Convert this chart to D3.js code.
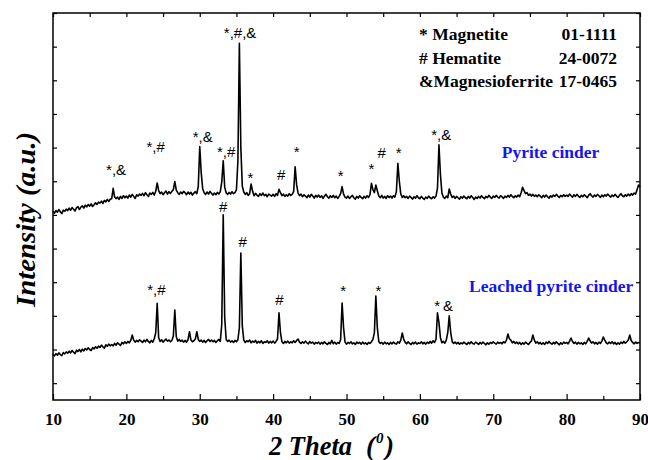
<!DOCTYPE html>
<html>
<head>
<meta charset="utf-8">
<script src="https://cdn.jsdelivr.net/npm/d3@7"></script>
<style>
  html, body { margin: 0; padding: 0; background: #fff; }
  svg { display: block; }
</style>
</head>
<body>
<div id="chart"></div>
<script>
// XRD scan grid: 2θ from 10° to 90° in 0.2° steps
const twoThetaStart = 10;
const twoThetaStep = 0.2;

// Pyrite cinder, raw intensity (a.u.), one value per grid step
const pyriteCinder = [
  511, 505, 513, 508, 516, 509, 504, 514, 511, 517,
  513, 520, 514, 522, 517, 512, 521, 525, 516, 523,
  527, 520, 529, 524, 531, 526, 533, 525, 530, 536,
  531, 538, 535, 541, 534, 543, 539, 546, 540, 547,
  548, 579, 553, 548, 553, 546, 555, 549, 557, 551,
  556, 550, 559, 553, 561, 555, 549, 560, 556, 562,
  558, 564, 557, 566, 560, 555, 565, 561, 567, 559,
  570, 595, 572, 563, 568, 560, 566, 571, 562, 569,
  564, 570, 575, 599, 574, 566, 561, 568, 563, 570,
  566, 560, 568, 562, 567, 559, 565, 569, 563, 585,
  703, 625, 578, 566, 561, 568, 562, 570, 564, 559,
  565, 560, 567, 562, 569, 598, 661, 582, 566, 561,
  567, 562, 569, 563, 566, 575, 660, 1010, 700, 585,
  568, 561, 566, 558, 563, 592, 570, 557, 564, 559,
  555, 563, 558, 565, 557, 561, 554, 562, 559, 556,
  561, 555, 563, 558, 576, 566, 557, 562, 555, 560,
  556, 563, 558, 561, 570, 643, 590, 565, 557, 562,
  554, 560, 556, 551, 559, 553, 561, 556, 550, 558,
  553, 559, 552, 557, 549, 556, 561, 554, 550, 557,
  552, 558, 551, 556, 549, 555, 563, 584, 562, 553,
  550, 556, 549, 554, 558, 551, 547, 555, 550, 557,
  552, 548, 555, 550, 557, 552, 560, 594, 575, 566,
  589, 572, 556, 551, 558, 550, 555, 549, 557, 552,
  556, 550, 557, 553, 570, 653, 600, 562, 552, 557,
  551, 555, 549, 556, 552, 547, 554, 550, 557, 551,
  548, 555, 550, 546, 553, 549, 556, 551, 548, 554,
  550, 556, 580, 708, 620, 565, 553, 549, 556, 551,
  577, 562, 552, 556, 549, 555, 551, 547, 554, 550,
  556, 551, 548, 555, 550, 557, 552, 546, 553, 549,
  555, 550, 557, 552, 548, 555, 551, 558, 553, 549,
  556, 552, 558, 553, 550, 557, 554, 549, 556, 552,
  558, 553, 560, 555, 551, 557, 553, 559, 554, 566,
  582, 572, 563, 566, 558, 562, 556, 561, 555, 559,
  554, 560, 556, 551, 558, 553, 559, 554, 550, 557,
  553, 559, 555, 561, 556, 552, 558, 554, 560, 555,
  559, 555, 562, 557, 553, 560, 555, 561, 556, 552,
  558, 554, 560, 556, 551, 558, 563, 557, 553, 559,
  555, 561, 557, 552, 559, 554, 560, 556, 562, 557,
  553, 559, 555, 561, 556, 552, 558, 563, 557, 554,
  560, 556, 562, 557, 563, 559, 565, 562, 575, 589,
  583
];

// Leached pyrite cinder, raw intensity (a.u.)
const leachedCinder = [
  86, 81, 88, 83, 90, 85, 82, 91, 87, 93,
  89, 95, 90, 97, 92, 88, 98, 94, 100, 93,
  101, 96, 103, 99, 105, 100, 97, 106, 102, 108,
  104, 110, 106, 113, 108, 104, 114, 110, 116, 111,
  115, 111, 118, 113, 120, 116, 112, 121, 117, 123,
  118, 124, 120, 127, 143, 128, 122, 127, 123, 129,
  125, 121, 128, 123, 130, 124, 120, 127, 122, 132,
  150, 237, 135, 124, 129, 122, 127, 131, 125, 128,
  123, 127, 140, 217, 138, 125, 130, 124, 128, 122,
  127, 122, 129, 153, 128, 123, 126, 131, 153, 130,
  124, 128, 122, 127, 121, 126, 130, 124, 128, 123,
  127, 121, 126, 130, 124, 175, 500, 195, 130, 124,
  128, 122, 126, 121, 127, 123, 129, 165, 387, 170,
  128, 121, 126, 123, 128, 120, 125, 122, 127, 119,
  124, 120, 126, 118, 123, 121, 126, 119, 124, 120,
  125, 119, 124, 132, 209, 150, 123, 118, 124, 120,
  125, 119, 123, 120, 126, 121, 127, 131, 122, 118,
  123, 119, 125, 120, 117, 124, 119, 122, 116, 121,
  118, 122, 116, 121, 117, 123, 118, 115, 121, 117,
  127, 117, 122, 116, 121, 118, 130, 238, 165, 122,
  116, 121, 118, 123, 117, 120, 115, 122, 118, 121,
  116, 122, 117, 120, 115, 121, 118, 123, 130, 150,
  259, 165, 124, 118, 121, 116, 122, 117, 120, 115,
  121, 117, 122, 118, 116, 123, 119, 128, 149, 130,
  121, 117, 123, 118, 115, 121, 117, 122, 116, 120,
  118, 123, 117, 121, 116, 122, 118, 124, 119, 126,
  121, 130, 209, 180, 135, 120, 124, 119, 128, 150,
  200, 150, 124, 118, 122, 117, 121, 116, 120, 117,
  122, 118, 115, 121, 117, 123, 118, 116, 122, 119,
  115, 121, 117, 122, 118, 114, 120, 116, 121, 118,
  123, 119, 116, 122, 118, 121, 117, 123, 120, 128,
  146, 132, 128, 120, 124, 118, 122, 117, 121, 115,
  120, 116, 122, 118, 115, 121, 125, 143, 128, 119,
  123, 117, 121, 116, 120, 115, 122, 118, 124, 119,
  116, 121, 117, 123, 118, 114, 120, 116, 122, 118,
  121, 117, 125, 134, 124, 118, 122, 116, 121, 117,
  120, 115, 121, 117, 124, 134, 126, 119, 123, 117,
  121, 116, 122, 118, 125, 137, 128, 120, 117, 122,
  118, 123, 117, 121, 115, 120, 116, 122, 118, 124,
  119, 123, 128, 143, 127, 121, 117, 122, 118, 121,
  120
];

// Axis ticks
const xMajorTicks = [10, 20, 30, 40, 50, 60, 70, 80, 90];
const xMinorTicks = [15, 25, 35, 45, 55, 65, 75, 85];
const yTicks = [0, 100, 200, 300, 400, 500, 600, 700, 800, 900, 1000, 1100];

// Phase key (symbol + name, PDF card number)
const phaseNames = ["* Magnetite", "# Hematite", "&Magnesioferrite"];
const phaseCards = ["01-1111", "24-0072", "17-0465"];

// Phase marks over reflections: [2θ, intensity, symbols]
const peakMarks = [
  [18.6, 619, "*,&"],
  [24.0, 687, "*,#"],
  [30.4, 717, "*,&"],
  [33.6, 672, "*,#"],
  [35.5, 1027, "*,#,&"],
  [36.9, 595, "*"],
  [41.1, 604, "#"],
  [43.2, 672, "*"],
  [49.2, 601, "*"],
  [53.4, 622, "*"],
  [54.8, 669, "#"],
  [57.1, 669, "*"],
  [62.9, 723, "*,&"],
  [33.2, 509, "#"],
  [35.85, 405, "#"],
  [24.1, 262, "*,#"],
  [40.85, 232, "#"],
  [49.55, 259, "*"],
  [54.35, 259, "*"],
  [62.35, 214, "*"],
  [63.85, 213, "&"]
];

// Sample names: [2θ at text start, intensity at baseline, name]
const sampleNames = [
  [71.15, 669, "Pyrite cinder"],
  [66.7, 272, "Leached pyrite cinder"]
];

const W = 648, H = 460;
const margin = { top: 13, right: 8, bottom: 60, left: 53 };

const svg = d3.select("#chart").append("svg")
  .attr("width", W).attr("height", H);

const x = d3.scaleLinear().domain([10, 90]).range([margin.left, W - margin.right]);
const y = d3.scaleLinear().domain([-50, 1100]).range([H - margin.bottom, margin.top]);

const serif = "'Liberation Serif', 'Times New Roman', serif";
const sans = "'Liberation Sans', Arial, sans-serif";

// ---- axes (all ticks point inward) ----
function styleAxis(g) {
  g.select(".domain").remove();
  g.selectAll(".tick line").attr("stroke", "#000").attr("stroke-width", 1.2);
}

svg.append("g")
  .attr("transform", `translate(0,${H - margin.bottom})`)
  .call(d3.axisBottom(x).tickValues(xMajorTicks).tickSizeInner(-6).tickSizeOuter(0)
    .tickPadding(13).tickFormat(d3.format("d")))
  .call(styleAxis)
  .call(g => g.selectAll(".tick text")
    .attr("font-family", serif).attr("font-weight", "bold")
    .attr("font-size", 17).attr("fill", "#000"));

svg.append("g")
  .attr("transform", `translate(0,${H - margin.bottom})`)
  .call(d3.axisBottom(x).tickValues(xMinorTicks).tickSizeInner(-4).tickSizeOuter(0).tickFormat(""))
  .call(styleAxis);

svg.append("g")
  .attr("transform", `translate(0,${margin.top})`)
  .call(d3.axisTop(x).tickValues(xMajorTicks.concat(xMinorTicks)).tickSizeInner(-4).tickSizeOuter(0).tickFormat(""))
  .call(styleAxis);

svg.append("g")
  .attr("transform", `translate(${margin.left},0)`)
  .call(d3.axisLeft(y).tickValues(yTicks).tickSizeInner(-4).tickSizeOuter(0).tickFormat(""))
  .call(styleAxis);

svg.append("g")
  .attr("transform", `translate(${W - margin.right},0)`)
  .call(d3.axisRight(y).tickValues(yTicks).tickSizeInner(-4).tickSizeOuter(0).tickFormat(""))
  .call(styleAxis);

svg.append("rect")
  .attr("x", margin.left).attr("y", margin.top)
  .attr("width", W - margin.left - margin.right)
  .attr("height", H - margin.top - margin.bottom)
  .attr("fill", "none").attr("stroke", "#000").attr("stroke-width", 1.5);

// ---- diffraction patterns ----
const line = d3.line()
  .x((d, i) => x(twoThetaStart + i * twoThetaStep))
  .y(d => y(d));

[pyriteCinder, leachedCinder].forEach(series => {
  svg.append("path")
    .datum(series)
    .attr("d", line)
    .attr("fill", "none")
    .attr("stroke", "#000")
    .attr("stroke-width", 1.6)
    .attr("stroke-linejoin", "round");
});

// ---- phase marks ----
svg.append("g").selectAll("text")
  .data(peakMarks)
  .join("text")
  .attr("x", d => x(d[0]))
  .attr("y", d => y(d[1]))
  .attr("text-anchor", "middle")
  .attr("font-family", sans)
  .attr("font-size", 15)
  .attr("fill", "#000")
  .text(d => d[2]);

// ---- sample names ----
svg.append("g").selectAll("text")
  .data(sampleNames)
  .join("text")
  .attr("x", d => x(d[0]))
  .attr("y", d => y(d[1]))
  .attr("font-family", serif)
  .attr("font-weight", "bold")
  .attr("font-size", 17.5)
  .attr("fill", "#1414f0")
  .text(d => d[2]);

// ---- phase key ----
const key = svg.append("g")
  .attr("font-family", serif)
  .attr("font-weight", "bold")
  .attr("font-size", 17.5)
  .attr("fill", "#000");

key.selectAll("text.name")
  .data(phaseNames)
  .join("text")
  .attr("class", "name")
  .attr("x", 419)
  .attr("y", (d, i) => 40 + i * 23.7)
  .text(d => d);

key.selectAll("text.card")
  .data(phaseCards)
  .join("text")
  .attr("class", "card")
  .attr("x", 617)
  .attr("y", (d, i) => 40 + i * 23.7)
  .attr("text-anchor", "end")
  .text(d => d);

// ---- axis titles ----
const xTitle = svg.append("text")
  .attr("y", 455)
  .attr("font-family", serif)
  .attr("font-weight", "bold")
  .attr("font-style", "italic")
  .attr("font-size", 27)
  .attr("fill", "#000");
xTitle.append("tspan").attr("x", 269)
  .attr("textLength", 83).attr("lengthAdjust", "spacingAndGlyphs")
  .text("2 Theta");
xTitle.append("tspan").attr("x", 366).text("(");
xTitle.append("tspan").attr("x", 376).attr("dy", -12).attr("font-size", 15).text("0");
xTitle.append("tspan").attr("x", 385).attr("dy", 12).text(")");

svg.append("text")
  .attr("transform", "translate(35,219.5) rotate(-90)")
  .attr("text-anchor", "middle")
  .attr("font-family", serif)
  .attr("font-weight", "bold")
  .attr("font-style", "italic")
  .attr("font-size", 27)
  .attr("textLength", 175)
  .attr("lengthAdjust", "spacingAndGlyphs")
  .attr("fill", "#000")
  .text("Intensity (a.u.)");
</script>
</body>
</html>
